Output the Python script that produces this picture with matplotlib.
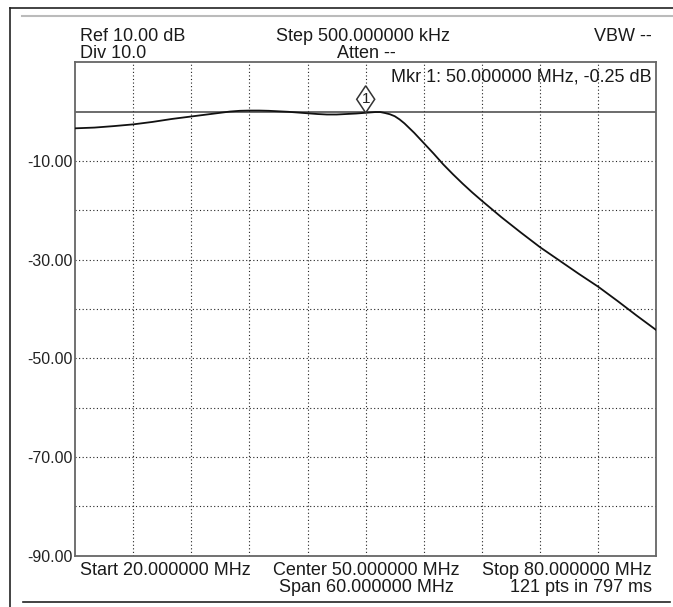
import numpy as np
import matplotlib.pyplot as plt
from matplotlib.lines import Line2D
from matplotlib.patches import Polygon

plt.rcParams['font.family'] = ['Liberation Sans', 'DejaVu Sans']

# trace read from the analyzer (MHz, dB)
freq_mhz = [20, 22, 24, 26, 28, 30, 32, 34, 36, 37, 38, 39, 40, 41, 42, 43,
            44, 45, 46, 47, 48, 49, 50, 51, 51.5, 52, 52.5, 53, 53.5, 54,
            55, 56, 57, 58, 59, 60, 61, 62, 64, 66, 68, 70, 72, 74, 76, 78, 80]
level_db = [-3.4, -3.25, -2.95, -2.6, -2.1, -1.5, -1.0, -0.5, 0.0, 0.15,
            0.2, 0.2, 0.15, 0.05, -0.05, -0.2, -0.35, -0.5, -0.6, -0.6, -0.5,
            -0.4, -0.25, -0.1, -0.1, -0.3, -0.55, -0.95, -1.6, -2.4, -4.3,
            -6.4, -8.5, -10.7, -12.7, -14.6, -16.4, -18.1, -21.4, -24.5,
            -27.5, -30.2, -32.9, -35.5, -38.4, -41.4, -44.3]

ref_db = 0.0
mkr_freq = 50.0
mkr_db = -0.25
ytick_vals = [-10, -30, -50, -70, -90]
ytick_labels = ['-10.00', '-30.00', '-50.00', '-70.00', '-90.00']

W, H = 673, 607
fig = plt.figure(figsize=(W / 100, H / 100), dpi=100)


def fx(x):
    return x / W


def fy(y):
    return 1 - y / H


ax = fig.add_axes([fx(75), fy(555.7), (656.4 - 75) / W, (555.7 - 62.2) / H])
ax.set_xlim(20, 80)
ax.set_ylim(-90, 10)

# dotted graticule
for x in np.arange(26, 80, 6):
    ax.axvline(x, color='#222222', lw=0.8, ls=(0, (1, 2.2)), zorder=1)
for y in np.arange(-80, 0, 10):
    ax.axhline(y, color='#222222', lw=0.8, ls=(0, (1, 2.2)), zorder=1)

ax.axhline(ref_db, color='#444444', lw=1.1, zorder=2)
ax.plot(freq_mhz, level_db, color='#111111', lw=1.3, zorder=3)

# marker diamond sitting on the trace
mx, my = ax.transData.transform((mkr_freq, mkr_db))
inv = ax.transData.inverted()
pts = [(mx, my), (mx + 9, my + 13.5), (mx, my + 27), (mx - 9, my + 13.5)]
diamond = Polygon([inv.transform(p) for p in pts], closed=True,
                  facecolor='white', edgecolor='#333333', lw=1.1, zorder=4)
ax.add_patch(diamond)
cx, cy = inv.transform((mx, my + 13.5))
ax.text(cx, cy, '1', ha='center', va='center', fontsize=11, color='#222222', zorder=5)

ax.set_xticks([])
ax.set_yticks(ytick_vals)
ax.set_yticklabels(ytick_labels, fontsize=11.5, color='#222222')
ax.tick_params(axis='y', length=0, pad=2)
for s in ax.spines.values():
    s.set_color('#666666')
    s.set_linewidth(1.3)

txt = dict(fontsize=13, color='#1a1a1a')
fig.text(fx(80), fy(41), 'Ref 10.00 dB', ha='left', va='baseline', **txt)
fig.text(fx(80), fy(58), 'Div 10.0', ha='left', va='baseline', **txt)
fig.text(fx(363), fy(41), 'Step 500.000000 kHz', ha='center', va='baseline', **txt)
fig.text(fx(366), fy(58), 'Atten --', ha='center', va='baseline', **txt)
fig.text(fx(652), fy(41), 'VBW --', ha='right', va='baseline', **txt)
fig.text(fx(652), fy(81), 'Mkr 1: 50.000000 MHz, -0.25 dB', ha='right', va='baseline', **txt)

fig.text(fx(80), fy(575), 'Start 20.000000 MHz', ha='left', va='baseline', **txt)
fig.text(fx(366), fy(575), 'Center 50.000000 MHz', ha='center', va='baseline', **txt)
fig.text(fx(652), fy(575), 'Stop 80.000000 MHz', ha='right', va='baseline', **txt)
fig.text(fx(366), fy(592), 'Span 60.000000 MHz', ha='center', va='baseline', **txt)
fig.text(fx(652), fy(592), '121 pts in 797 ms', ha='right', va='baseline', **txt)

# window frame lines
fig.add_artist(Line2D([fx(10), fx(673)], [fy(8), fy(8)], color='#222222', lw=1.2))
fig.add_artist(Line2D([fx(10), fx(10)], [fy(8), fy(607)], color='#222222', lw=1.2))
fig.add_artist(Line2D([fx(22), fx(673)], [fy(15.5), fy(15.5)], color='#bbbbbb', lw=1.5))
fig.add_artist(Line2D([fx(23), fx(670)], [fy(601.5), fy(601.5)], color='#222222', lw=1.2))

fig.savefig('out.png', dpi=100)
